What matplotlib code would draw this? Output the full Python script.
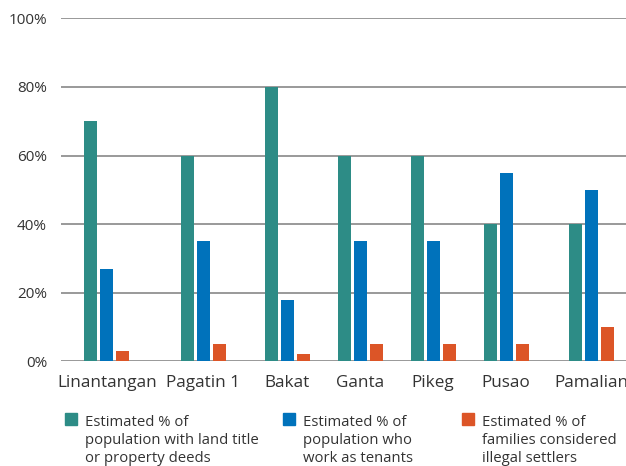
import matplotlib
matplotlib.use("Agg")
import matplotlib.pyplot as plt
from matplotlib.patches import Rectangle

# Survey results by village
villages = ["Linantangan", "Pagatin 1", "Bakat", "Ganta", "Pikeg", "Pusao", "Pamalian"]
land_title = [70, 60, 80, 60, 60, 40, 40]
tenants = [27, 35, 18, 35, 35, 55, 50]
illegal_settlers = [3, 5, 2, 5, 5, 5, 10]

series_labels = [
    ["Estimated % of", "population with land title", "or property deeds"],
    ["Estimated % of", "population who", "work as tenants"],
    ["Estimated % of", "families considered", "illegal settlers"],
]
colors = ["#2D8C86", "#0072BB", "#DC5527"]
y_ticks = [0, 20, 40, 60, 80, 100]

FONT = "Open Sans"
TEXT_COLOR = "#333333"
W, H = 626, 466
fig = plt.figure(figsize=(W / 100, H / 100), dpi=100)
fig.patch.set_facecolor("white")

# axes box in pixel terms
ax_left, ax_right, ax_top, ax_bottom = 61, 626, 18.3, 361.3
ax = fig.add_axes([ax_left / W, (H - ax_bottom) / H,
                   (ax_right - ax_left) / W, (ax_bottom - ax_top) / H])
ax_w = ax_right - ax_left
ax.set_xlim(0, ax_w)  # x data units are pixels
ax.set_ylim(0, 100)

# Category slots sized by their label width (capped, long labels may overhang)
renderer = fig.canvas.get_renderer()
label_size = 12.3
widths = []
for name in villages:
    t = fig.text(0, 0, name, fontsize=label_size, family=FONT)
    widths.append(t.get_window_extent(renderer).width)
    t.remove()

bar_w, bar_step = 13, 16
group_w = 2 * bar_step + bar_w
slot_cap = 70
slots = [min(max(w, group_w), slot_cap) for w in widths]
first_center = -4 + widths[0] / 2
span = 485  # distance from first to last group centre
base = sum((slots[i] + slots[i + 1]) / 2 for i in range(len(slots) - 1))
pad = (span - base) / (len(slots) - 1)
centers = [first_center]
for i in range(1, len(slots)):
    centers.append(centers[-1] + (slots[i - 1] + slots[i]) / 2 + pad)

for k, (vals, col) in enumerate(zip([land_title, tenants, illegal_settlers], colors)):
    xs = [c + (k - 1) * bar_step for c in centers]
    ax.bar(xs, vals, width=bar_w, color=col, zorder=3)

ax.set_yticks(y_ticks)
ax.set_yticklabels([f"{v}%" for v in y_ticks], fontsize=11, family=FONT, color=TEXT_COLOR)
ax.set_xticks(centers)
ax.set_xticklabels(villages, fontsize=label_size, family=FONT, color=TEXT_COLOR)
ax.tick_params(axis="y", length=0, pad=10)
ax.tick_params(axis="x", length=0, pad=10)
ax.yaxis.grid(True, color="#888888", linewidth=1.2)
ax.set_axisbelow(True)
for sp in ax.spines.values():
    sp.set_visible(False)

# Legend drawn below the plot, one baseline per line
marker_x = [65, 283, 462]
text_x = [85, 303, 482]
first_baseline, line_step = 425.7, 18.3
for mx, tx, lines, col in zip(marker_x, text_x, series_labels, colors):
    fig.patches.append(Rectangle((mx / W, (H - 424.7) / H), 12 / W, 12 / H,
                                 transform=fig.transFigure, color=col))
    for j, line in enumerate(lines):
        fig.text(tx / W, (H - first_baseline - j * line_step) / H, line,
                 fontsize=10.7, family=FONT, color=TEXT_COLOR,
                 va="baseline", ha="left")

fig.savefig("out.png", dpi=100)
